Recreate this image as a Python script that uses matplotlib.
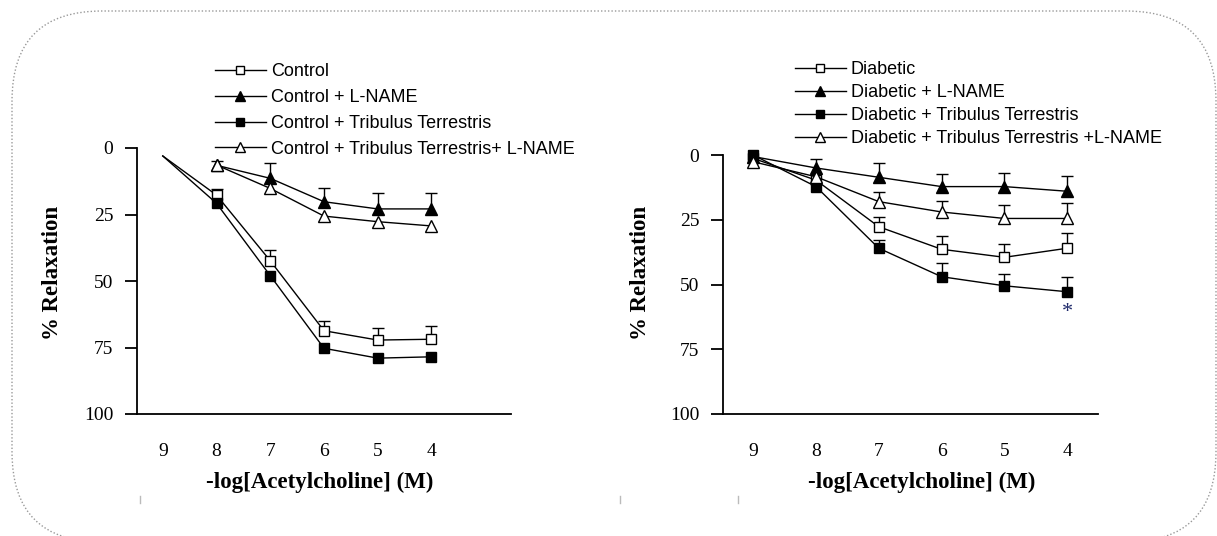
import numpy as np
import matplotlib
matplotlib.use("Agg")
import matplotlib.pyplot as plt
from matplotlib.patches import FancyBboxPatch
from matplotlib.lines import Line2D
from matplotlib.transforms import IdentityTransform

# -log[ACh] concentrations
conc = [9, 8, 7, 6, 5, 4]
y_ticks = [0, 25, 50, 75, 100]

# left panel (control groups); nan = no point
ctrl_labels = ["Control", "Control + L-NAME", "Control + Tribulus Terrestris",
               "Control + Tribulus Terrestris+ L-NAME"]
ctrl = [3, 17.7, 42.4, 68.7, 72.2, 71.9]
ctrl_err = [0, 2.2, 4.0, 3.8, 4.6, 5.0]
ctrl_lname = [np.nan, 6.5, 11.4, 20.2, 22.9, 22.9]
ctrl_lname_err = [0, 1.5, 5.6, 5.3, 6.1, 6.1]
ctrl_tt = [3, 20.8, 48.0, 75.3, 79.0, 78.5]
ctrl_tt_err = [0, 0, 0, 0, 0, 0]
ctrl_tt_lname = [np.nan, 6.4, 15.2, 25.6, 27.7, 29.3]
ctrl_tt_lname_err = [0, 0, 0, 0, 0, 0]

# right panel (diabetic groups)
diab_labels = ["Diabetic", "Diabetic + L-NAME", "Diabetic + Tribulus Terrestris",
               "Diabetic + Tribulus Terrestris +L-NAME"]
diab = [1.3, 9.7, 27.7, 36.4, 39.5, 36.0]
diab_err = [0, 0, 3.6, 5.0, 5.0, 6.0]
diab_lname = [0.6, 5.0, 8.6, 12.2, 12.2, 14.0]
diab_lname_err = [0, 3.5, 5.4, 4.7, 5.4, 5.8]
diab_tt = [0, 12.2, 36.0, 47.0, 50.5, 52.8]
diab_tt_err = [0, 0, 3.0, 5.4, 4.5, 5.6]
diab_tt_lname = [2.6, 8.4, 18.0, 22.0, 24.5, 24.5]
diab_tt_lname_err = [0, 0, 3.8, 4.4, 5.2, 6.0]

W, H = 1217, 536
styles = [
    dict(marker="s", mfc="white", mec="black", ms=7.5),
    dict(marker="^", mfc="black", mec="black", ms=8.5),
    dict(marker="s", mfc="black", mec="black", ms=7.5),
    dict(marker="^", mfc="white", mec="black", ms=8.5),
]


def px_axes(fig, x0, y0, x1, y1):
    # pixel box (top-left origin) -> figure axes
    return fig.add_axes([x0 / W, 1 - y1 / H, (x1 - x0) / W, (y1 - y0) / H])


def draw_panel(ax, series, errs, xlim, mark_from):
    x = np.array(conc, dtype=float)
    for vals, err, st in zip(series, errs, styles):
        vals = np.array(vals, dtype=float)
        err = np.array(err, dtype=float)
        ax.plot(x, vals, color="black", lw=1.0, markevery=list(range(mark_from, 6)),
                mew=1.0, zorder=3, clip_on=False, **st)
        m = err > 0
        if m.any():
            eb = ax.errorbar(x[m], vals[m], yerr=[err[m], np.zeros(m.sum())],
                             fmt="none", ecolor="black", elinewidth=1.0,
                             capsize=4.5, capthick=1.0, zorder=2, clip_on=False)
            for cap in eb[1]:
                if np.allclose(cap.get_ydata(), vals[m]):
                    cap.set_visible(False)
    ax.set_xlim(*xlim)
    ax.set_ylim(100, 0)
    ax.set_yticks(y_ticks)
    ax.set_xticks(conc)
    ax.set_xticklabels([str(c) for c in conc])
    for s in ["top", "right"]:
        ax.spines[s].set_visible(False)
    for s in ["left", "bottom"]:
        ax.spines[s].set_linewidth(1.3)
    ax.spines["left"].set_bounds(0, 100)
    ax.tick_params(axis="y", length=9, width=1.3, pad=8, labelsize=14)
    ax.tick_params(axis="x", length=0, pad=21, labelsize=14)
    for t in ax.get_xticklabels() + ax.get_yticklabels():
        t.set_fontfamily("Liberation Serif")


def main():
    fig = plt.figure(figsize=(W / 100, H / 100), dpi=100)

    # rounded dotted frame
    frame = FancyBboxPatch((12, -6), 1204, 531,
                           boxstyle="round,pad=0,rounding_size=90",
                           transform=IdentityTransform(), fill=False,
                           ec="#999999", lw=1.0, ls=(0, (1, 1.5)))
    fig.patches.append(frame)
    for xm in [140, 620, 738]:
        fig.add_artist(Line2D([xm / W, xm / W], [1 - 496 / H, 1 - 503 / H],
                              color="#bbbbbb", lw=1.0))

    ax1 = px_axes(fig, 137, 148, 511, 414)
    draw_panel(ax1, [ctrl, ctrl_lname, ctrl_tt, ctrl_tt_lname],
               [ctrl_err, ctrl_lname_err, ctrl_tt_err, ctrl_tt_lname_err],
               (9.48, 2.52), 1)

    ax2 = px_axes(fig, 723, 155, 1098, 414)
    draw_panel(ax2, [diab, diab_lname, diab_tt, diab_tt_lname],
               [diab_err, diab_lname_err, diab_tt_err, diab_tt_lname_err],
               (9.48, 3.51), 0)
    ax2.annotate("*", (conc[-1], diab_tt[-1]), xytext=(0, -15),
                 textcoords="offset points", ha="center", va="center",
                 fontsize=16, color="#1f2a6b", fontfamily="Liberation Serif")

    for cx, cy in [(52, 273), (640, 273)]:
        fig.text(cx / W, 1 - cy / H, "% Relaxation", rotation=90,
                 ha="center", va="center", fontsize=16.5, fontweight="bold",
                 fontfamily="Liberation Serif")
    for cx in [320, 922]:
        fig.text(cx / W, 1 - 482 / H, "-log[Acetylcholine] (M)",
                 ha="center", va="center", fontsize=16.5, fontweight="bold",
                 fontfamily="Liberation Serif")

    for labels, pos, sp in [(ctrl_labels, (215, 63.5), 0.48), (diab_labels, (795, 61), 0.33)]:
        handles = [Line2D([], [], color="black", lw=1.0, mew=1.0, **st) for st in styles]
        fig.legend(handles, labels, loc="upper left",
                   bbox_to_anchor=(pos[0] / W, 1 - pos[1] / H),
                   frameon=False, borderpad=0, borderaxespad=0,
                   prop={"family": "Liberation Sans", "size": 13},
                   handlelength=2.8, handletextpad=0.3, labelspacing=sp,
                   markerscale=0.8)

    plt.savefig("out.png", dpi=100)


if __name__ == "__main__":
    main()
